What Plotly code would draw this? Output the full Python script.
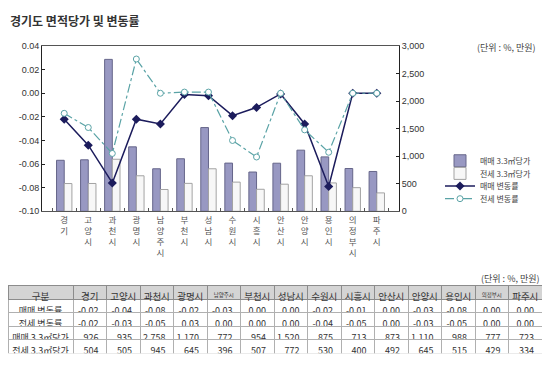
import plotly.graph_objects as go

# ---------------- data ----------------
cities = ["경기", "고양시", "과천시", "광명시", "남양주시", "부천시", "성남시",
          "수원시", "시흥시", "안산시", "안양시", "용인시", "의정부시", "파주시"]
sale_price = [926, 935, 2758, 1170, 772, 954, 1520, 875, 713, 873, 1110, 988, 777, 723]
jeonse_price = [504, 505, 945, 645, 396, 507, 772, 530, 400, 492, 645, 515, 429, 334]
sale_rate = [-0.022, -0.044, -0.076, -0.022, -0.026, -0.001, -0.002, -0.019, -0.012,
             -0.0006, -0.026, -0.079, 0.0, 0.0]
jeonse_rate = [-0.017, -0.029, -0.051, 0.029, 0.0, 0.001, 0.001, -0.040, -0.054,
               0.0, -0.031, -0.050, 0.0, 0.0]
left_ticks = [0.04, 0.02, 0.0, -0.02, -0.04, -0.06, -0.08, -0.10]
left_ticktext = ["0.04", "0.02", "0.00", "-0.02", "-0.04", "-0.06", "-0.08", "-0.10"]
right_ticks = [0, 500, 1000, 1500, 2000, 2500, 3000]
row_labels = ["매매 변동률", "전세 변동률", "매매 3.3㎡당가", "전세 3.3㎡당가"]

# vertical stacked category labels
tick_labels = ["<br>".join(list(c)) for c in cities]

# page has an 8px body margin: work in page pixels, convert to figure paper
OFF = 8
W, H = 542, 358
FONT = "Liberation Sans, Noto Sans CJK KR, sans-serif"
KFONT = "Noto Sans CJK KR, sans-serif"


def px(p):
    return max(0.0, min(1.0, (p - OFF) / W))


def py(p):
    return max(0.0, min(1.0, 1 - (p - OFF) / H))


fig = go.Figure()

fig.add_trace(go.Bar(
    x=cities, y=sale_price, name="매매 3.3㎡당가", yaxis="y", legend="legend",
    marker=dict(color="#9898c2", line=dict(color="#66668a", width=1)),
))
fig.add_trace(go.Bar(
    x=cities, y=jeonse_price, name="전세 3.3㎡당가", yaxis="y", legend="legend2",
    marker=dict(color="#f7f7f7", line=dict(color="#a3a3a3", width=1)),
))
fig.add_trace(go.Scatter(
    x=cities, y=sale_rate, name="매매 변동률", yaxis="y2", mode="lines+markers",
    legend="legend3",
    line=dict(color="#1c1c5c", width=1.5),
    marker=dict(symbol="diamond", size=7, color="#1c1c5c"),
))
fig.add_trace(go.Scatter(
    x=cities, y=jeonse_rate, name="전세 변동률", yaxis="y2", mode="lines+markers",
    legend="legend4",
    line=dict(color="#5aa3a6", width=1.2, dash="dashdot"),
    marker=dict(symbol="circle", size=6, color="white",
                line=dict(color="#5aa3a6", width=1)),
))


def fmt_rate(v):
    return f"{round(v, 2) + 0.0:.2f}"


NB = "\u00a0"
cols = [[r.replace(" ", NB) for r in row_labels]]
for i in range(len(cities)):
    cols.append([fmt_rate(sale_rate[i]), fmt_rate(jeonse_rate[i]),
                 f"{sale_price[i]:,}", f"{jeonse_price[i]:,}"])

hdr_sizes = [9.5] + [5.5 if len(c) > 3 else 9.5 for c in cities]
fig.add_trace(go.Table(
    domain=dict(x=[px(8), px(542)], y=[py(358), py(288)]),
    columnwidth=[65] + [33.5] * len(cities),
    header=dict(values=["구분"] + cities, height=14, align="center",
                fill_color="#d4d4d4", line=dict(color="#8c8c8c", width=1),
                font=dict(family=KFONT, size=hdr_sizes, color="#333")),
    cells=dict(values=cols, height=13.5,
               align=["center"] + ["right"] * len(cities),
               fill_color="white", line=dict(color="#b0b0b0", width=1),
               font=dict(family=KFONT, size=9, color="#333")),
))

legend_common = dict(x=px(440), xanchor="left", yanchor="middle",
                     font=dict(family=KFONT, size=8, color="#444"),
                     bgcolor="rgba(0,0,0,0)", itemwidth=30)

fig.update_layout(
    width=W, height=H, margin=dict(l=0, r=0, t=0, b=0),
    paper_bgcolor="white", plot_bgcolor="white",
    barmode="group", bargap=0.36, bargroupgap=0,
    showlegend=True,
    font=dict(family=FONT, size=9, color="#333"),
    xaxis=dict(domain=[px(42), px(399)], showline=True, linecolor="#555",
               linewidth=1, mirror=True, ticks="inside", ticklen=3,
               tickson="boundaries", tickcolor="#555",
               tickvals=cities, ticktext=tick_labels,
               tickfont=dict(family=KFONT, size=8.5, color="#555"),
               showgrid=False, zeroline=False, fixedrange=True),
    yaxis=dict(domain=[py(212), py(42)], side="right", anchor="x",
               range=[0, 3000], tickvals=right_ticks, tickformat=",",
               showline=True, linecolor="#222", linewidth=1,
               ticks="inside", ticklen=3, tickcolor="#222",
               showgrid=False, zeroline=False,
               tickfont=dict(size=9, color="#333")),
    yaxis2=dict(overlaying="y", side="left", anchor="x",
                range=[-0.10, 0.04], tickvals=left_ticks, ticktext=left_ticktext,
                showline=True, linecolor="#222", linewidth=1,
                ticks="inside", ticklen=3, tickcolor="#222",
                showgrid=False, zeroline=False,
                tickfont=dict(size=9, color="#333")),
    legend=dict(y=py(160), **legend_common),
    legend2=dict(y=py(173), **legend_common),
    legend3=dict(y=py(186), **legend_common),
    legend4=dict(y=py(199), **legend_common),
    annotations=[
        dict(text="<b>경기도 면적당가 및 변동률</b>", x=px(8), y=py(16),
             xref="paper", yref="paper", xanchor="left", yanchor="middle",
             showarrow=False, font=dict(family=KFONT, size=12, color="#333")),
        dict(text="(단위 : %, 만원)", x=px(538), y=py(43),
             xref="paper", yref="paper", xanchor="right", yanchor="middle",
             showarrow=False, font=dict(family=KFONT, size=9, color="#444")),
        dict(text="(단위 : %, 만원)", x=px(542), y=py(281),
             xref="paper", yref="paper", xanchor="right", yanchor="middle",
             showarrow=False, font=dict(family=KFONT, size=9, color="#444")),
    ],
)

fig.write_html("out.html")
